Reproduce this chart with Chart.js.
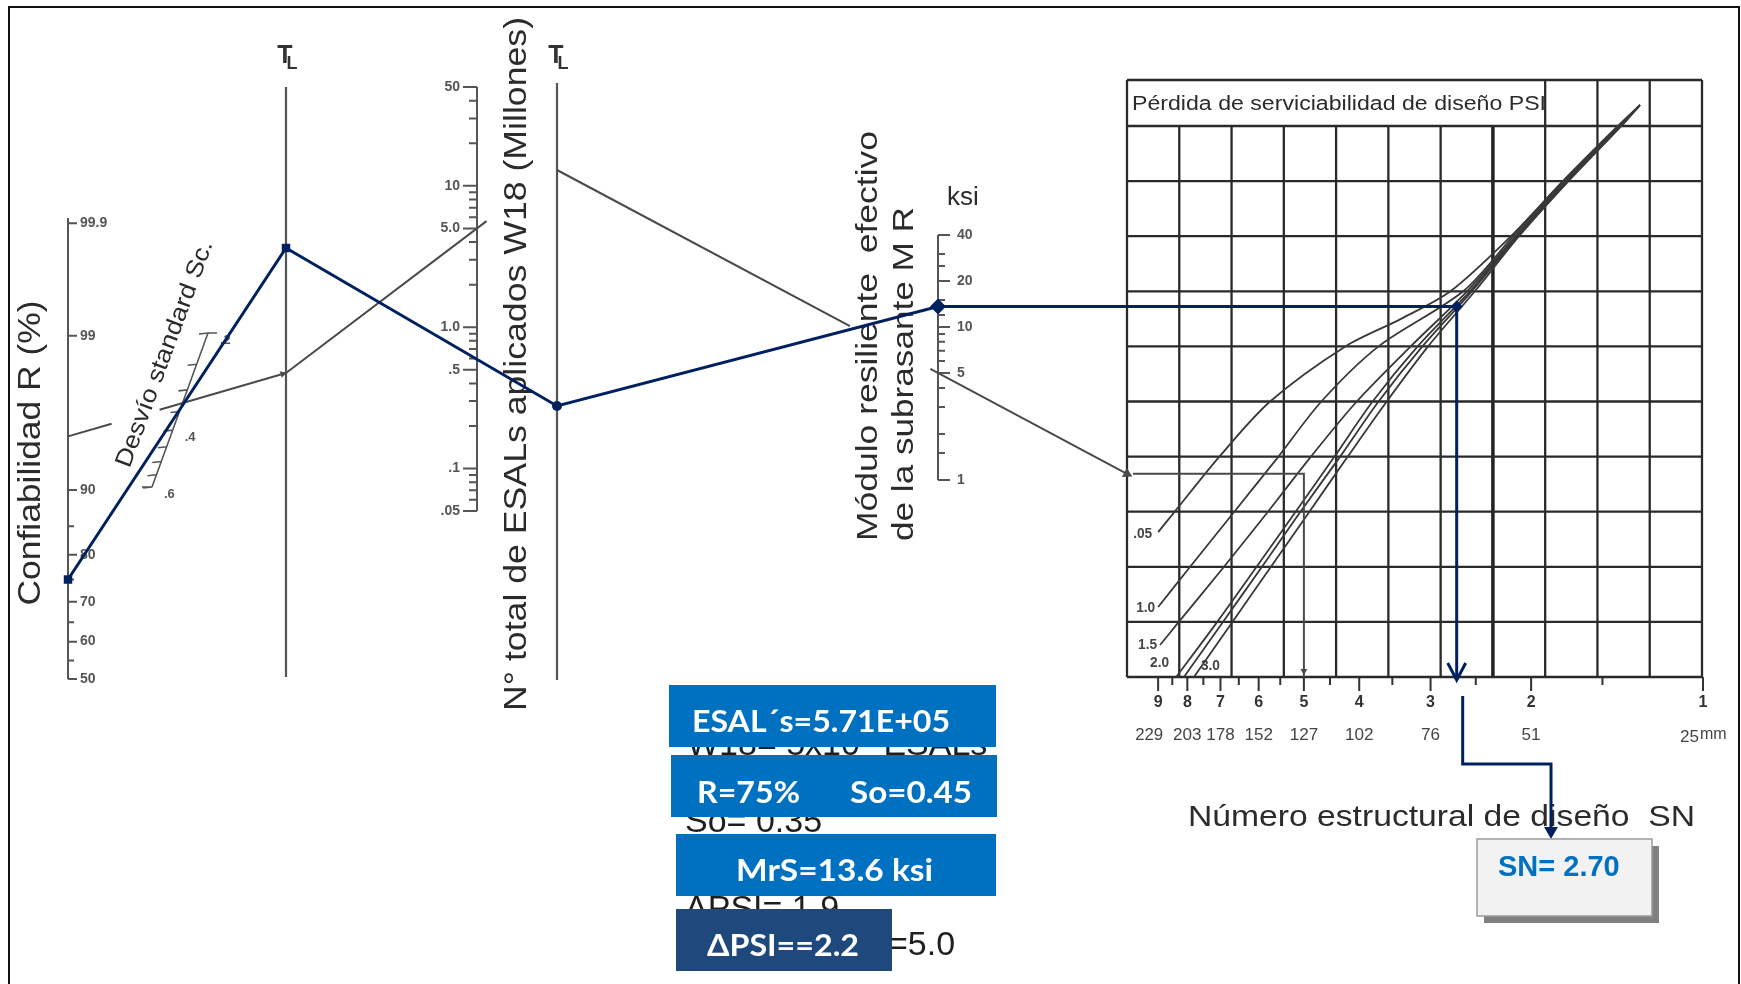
<!doctype html>
<html>
<head>
  <title>Nomograma AASHTO - pavimento flexible</title>
  <script src="https://cdn.jsdelivr.net/npm/chart.js@4.4.1/dist/chart.umd.min.js"></script>
  <style>
    html, body { margin: 0; padding: 0; background: #fff; }
    canvas { display: block; }
  </style>
</head>
<body>
  <canvas id="canvas" width="1741" height="984"></canvas>
  <script>
    // ---- values ----
    var rTickVals = [99.9, 99, 90, 80, 70, 60, 50];
    var rMinorVals = [85, 75, 65, 55];
    var soTickVals = [0.2, 0.25, 0.3, 0.35, 0.4, 0.45, 0.5, 0.55, 0.6];
    var soLabelVals = [0.2, 0.4, 0.6];
    var esalTickVals = [50, 10, 5, 1, 0.5, 0.1, 0.05];
    var esalTickLabels = ['50', '10', '5.0', '1.0', '.5', '.1', '.05'];
    var esalMinorVals = [40, 30, 20, 9, 8, 7, 6, 4, 3, 2, 0.9, 0.8, 0.7, 0.6, 0.4, 0.3, 0.2, 0.09, 0.08, 0.07, 0.06];
    var mrTickVals = [40, 20, 10, 5, 1];
    var mrMinorVals = [30, 25, 15, 12, 9, 8, 7, 6, 4, 3, 2, 1.5];
    var snTickVals = [9, 8, 7, 6, 5, 4, 3, 2, 1];
    var snMmLabels = ['229', '203', '178', '152', '127', '102', '76', '51', '25'];
    var snMinorVals = [8.5, 7.5, 6.5, 5.5, 4.5, 3.5, 2.5, 1.5];

    // delta PSI curves: grid row (0 = bottom line) and the SN where the curve crosses it
    var psiNames = ['.05', '1.0', '1.5', '2.0', '', '3.0'];
    var psi05Rows = [2.63, 3, 4, 5, 6, 6.5, 7, 8, 9, 10, 10.38];
    var psi05Sn = [9.0, 8.42, 7.03, 5.73, 4.23, 3.38, 2.77, 2.17, 1.76, 1.41, 1.29];
    var psi10Rows = [1.27, 2, 3, 4, 5, 6, 7, 8, 9, 10, 10.38];
    var psi10Sn = [9.0, 7.91, 6.62, 5.54, 4.66, 3.70, 2.63, 2.15, 1.75, 1.40, 1.29];
    var psi15Rows = [0.58, 1, 2, 3, 4, 5, 6, 7, 8, 9, 10, 10.38];
    var psi15Sn = [8.93, 8.28, 6.90, 5.78, 4.86, 4.04, 3.25, 2.59, 2.13, 1.74, 1.40, 1.29];
    var psi20Rows = [0, 1, 2, 3, 4, 5, 6, 7, 8, 9, 10, 10.38];
    var psi20Sn = [8.37, 7.09, 6.05, 5.17, 4.42, 3.79, 3.16, 2.56, 2.12, 1.73, 1.40, 1.29];
    var psi25Rows = [0, 1, 2, 3, 4, 5, 6, 7, 8, 9, 10, 10.38];
    var psi25Sn = [8.11, 6.93, 5.92, 5.07, 4.32, 3.70, 3.10, 2.54, 2.11, 1.73, 1.39, 1.29];
    var psi30Rows = [0, 1, 2, 3, 4, 5, 6, 7, 8, 9, 10, 10.38];
    var psi30Sn = [7.79, 6.67, 5.71, 4.89, 4.19, 3.58, 3.03, 2.51, 2.10, 1.72, 1.39, 1.29];

    // design solution (blue)
    var designR = 75;
    var designTl1 = 248;   // pivot read on first TL line
    var designTl2 = 406;   // pivot read on second TL line
    var designMr = 13.6;
    var designSn = 2.70;

    // printed example of the original chart (grey)
    var exampleR = 95;
    var exampleTl1 = 373;
    var exampleW18 = 5.0;
    var exampleTl2 = 170;
    var exampleMr = 5;
    var exampleSn = 5.0;

    // ---- geometry of the nomograph ----
    var rAxis = {x: 68, base: 679, perZ: 147.5, top: 218};
    var soAxis = {x0: 208, y0: 333, x1: 152, y1: 487};
    var tl1 = {x: 286, top: 87, bottom: 677};
    var esalAxis = {x: 477, base: 511, perDecade: 141.3};
    var tl2 = {x: 557, top: 83, bottom: 680};
    var mrAxis = {x: 938, base: 480, perDecade: 153};
    var snGrid = {left: 1127, right: 1702, top: 80, head: 126, bottom: 677, cols: 11, rows: 10};
    var snAxis = {one: 1703, perDecade: 571};
    var snBox = {x: 1477, y: 839, w: 175, h: 77};

    function normCdf(z) {
      var t = 1 / (1 + 0.2316419 * Math.abs(z));
      var d = 0.3989423 * Math.exp(-z * z / 2);
      var p = d * t * (0.3193815 + t * (-0.3565638 + t * (1.781478 + t * (-1.821256 + t * 1.330274))));
      return z > 0 ? 1 - p : p;
    }
    function zOf(r) {
      var lo = -6, hi = 6;
      for (var i = 0; i < 60; i++) {
        var m = (lo + hi) / 2;
        if (normCdf(m) < r / 100) lo = m; else hi = m;
      }
      return (lo + hi) / 2;
    }
    function rY(r) { return rAxis.base - rAxis.perZ * zOf(r); }
    function soPt(v) {
      var t = Math.log10(v / 0.2) / Math.log10(3);
      return {x: soAxis.x0 + t * (soAxis.x1 - soAxis.x0), y: soAxis.y0 + t * (soAxis.y1 - soAxis.y0)};
    }
    function esalY(v) { return esalAxis.base - esalAxis.perDecade * Math.log10(v / 0.05); }
    function mrY(v) { return mrAxis.base - mrAxis.perDecade * Math.log10(v); }
    function snX(v) { return snAxis.one - snAxis.perDecade * Math.log10(v); }
    function rowY(r) { return snGrid.bottom - r * (snGrid.bottom - snGrid.head) / snGrid.rows; }
    function colX(i) { return snGrid.left + i * (snGrid.right - snGrid.left) / snGrid.cols; }

    function P(x, y) { return {x: x, y: y}; }
    var GAP = {x: null, y: null};
    function segs(list) {
      var out = [];
      list.forEach(function (s, i) {
        if (i) out.push(GAP);
        s.forEach(function (p) { out.push(p); });
      });
      return out;
    }
    function along(a, b, t) { return P(a.x + (b.x - a.x) * t, a.y + (b.y - a.y) * t); }
    function lineSet(data, color, width, extra) {
      var ds = {data: data, showLine: true, borderColor: color, borderWidth: width,
        pointRadius: 0, fill: false, spanGaps: false};
      for (var k in extra || {}) ds[k] = extra[k];
      return ds;
    }

    var BLUE = '#002060';
    var GREY = '#4a4a4a';
    var INK = '#2b2b2b';

    // ---- design path ----
    var pR = P(rAxis.x, rY(designR));
    var pT1 = P(tl1.x, designTl1);
    var pT2 = P(tl2.x, designTl2);
    var pMr = P(mrAxis.x, mrY(designMr));
    var pSn = P(snX(designSn), mrY(designMr));
    var arrowTip = P(pSn.x, snGrid.bottom + 3);
    var lowX = pSn.x + 6;
    var boxArrowX = snBox.x + 74;
    var lowPath = [P(lowX, 696), P(lowX, 764), P(boxArrowX, 764), P(boxArrowX, snBox.y - 9)];

    // ---- example path ----
    var eR = P(rAxis.x, rY(exampleR));
    var eT1 = P(tl1.x, exampleTl1);
    var eW = P(esalAxis.x, esalY(exampleW18));
    var eT2 = P(tl2.x, exampleTl2);
    var eMr = P(mrAxis.x, mrY(exampleMr));
    var eEdgeY = eT2.y + (eMr.y - eT2.y) * (snGrid.left - eT2.x) / (eMr.x - eT2.x);
    var eEdge = P(snGrid.left, eEdgeY);
    var eSnX = snX(exampleSn);
    var exampleLines = segs([
      [eR, along(eR, eT1, 0.2)],
      [along(eR, eT1, 0.42), eT1],
      [eT1, along(eT1, eW, 1.05)],
      [eT2, along(eT2, eEdge, 0.514)],
      [along(eT2, eEdge, 0.655), eEdge],
      [P(snGrid.left + 6, eEdgeY), P(eSnX, eEdgeY), P(eSnX, snGrid.bottom)]
    ]);

    // ---- axes and ticks ----
    var rLines = [[P(rAxis.x, rAxis.top), P(rAxis.x, rY(50))]];
    rTickVals.forEach(function (v) { rLines.push([P(rAxis.x, rY(v)), P(rAxis.x + 9, rY(v))]); });
    rMinorVals.forEach(function (v) { rLines.push([P(rAxis.x, rY(v)), P(rAxis.x + 6, rY(v))]); });

    var so0 = soPt(0.2), so1 = soPt(0.6);
    var soLines = [[so0, so1], [so0, P(so0.x + 9, so0.y)], [so1, P(so1.x - 10, so1.y)]];
    soTickVals.forEach(function (v) { var p = soPt(v); soLines.push([p, P(p.x - 9, p.y + 1)]); });

    var esalLines = [[P(esalAxis.x, esalY(50)), P(esalAxis.x, esalY(0.05))]];
    esalTickVals.forEach(function (v) { esalLines.push([P(esalAxis.x, esalY(v)), P(esalAxis.x - 14, esalY(v))]); });
    esalMinorVals.forEach(function (v) { esalLines.push([P(esalAxis.x, esalY(v)), P(esalAxis.x - 8, esalY(v))]); });

    var mrLines = [[P(mrAxis.x, mrY(40)), P(mrAxis.x, mrY(1))]];
    mrTickVals.forEach(function (v) { mrLines.push([P(mrAxis.x, mrY(v)), P(mrAxis.x + 12, mrY(v))]); });
    mrMinorVals.forEach(function (v) { mrLines.push([P(mrAxis.x, mrY(v)), P(mrAxis.x + 7, mrY(v))]); });

    var tlLines = [[P(tl1.x, tl1.top), P(tl1.x, tl1.bottom)], [P(tl2.x, tl2.top), P(tl2.x, tl2.bottom)]];

    // ---- SN chart grid ----
    var gridLines = [[P(snGrid.left, snGrid.top), P(snGrid.right, snGrid.top)]];
    for (var r = 0; r <= snGrid.rows; r++) gridLines.push([P(snGrid.left, rowY(r)), P(snGrid.right, rowY(r))]);
    for (var c = 0; c <= snGrid.cols; c++) {
      if (c === 7) continue;
      var colTop = (c === 0 || c >= 8) ? snGrid.top : snGrid.head;
      gridLines.push([P(colX(c), colTop), P(colX(c), snGrid.bottom)]);
    }
    var thickLine = [P(colX(7), snGrid.head), P(colX(7), snGrid.bottom)];
    var snTickLines = [];
    snTickVals.forEach(function (v) { snTickLines.push([P(snX(v), snGrid.bottom), P(snX(v), snGrid.bottom + 14)]); });
    snMinorVals.forEach(function (v) { snTickLines.push([P(snX(v), snGrid.bottom), P(snX(v), snGrid.bottom + 8)]); });

    function curve(rows, sns) { return rows.map(function (rw, i) { return P(snX(sns[i]), rowY(rw)); }); }
    var psiCurves = [
      curve(psi05Rows, psi05Sn), curve(psi10Rows, psi10Sn), curve(psi15Rows, psi15Sn),
      curve(psi20Rows, psi20Sn), curve(psi25Rows, psi25Sn), curve(psi30Rows, psi30Sn)
    ];
    var psiLabelShift = [[-6, 2, 'right'], [-3, 1, 'right'], [-3, 0, 'right'], [-7, -14, 'right'], [0, 0, 'left'], [7, -11, 'left']];

    var frame = [P(9, 986), P(9, 7), P(1739, 7), P(1739, 986)];

    var datasets = [
      {data: [pR, pT1, pT2, pMr, pSn], showLine: false, backgroundColor: BLUE, borderColor: BLUE,
        pointStyle: ['rect', 'rect', 'circle', 'rectRot', 'rectRot'], pointRadius: [6, 6, 5, 8, 6], borderWidth: 0},
      {data: [P(boxArrowX, snBox.y - 8)], showLine: false, backgroundColor: BLUE, borderColor: BLUE,
        pointStyle: 'triangle', rotation: 180, pointRadius: 8, borderWidth: 0},
      lineSet([pR, pT1, pT2, pMr, pSn, arrowTip], BLUE, 3),
      lineSet([P(arrowTip.x - 9, arrowTip.y - 17), arrowTip, P(arrowTip.x + 9, arrowTip.y - 17)], BLUE, 3),
      lineSet(lowPath, BLUE, 3, {borderJoinStyle: 'miter'}),
      {data: [eEdge, along(eR, eT1, 0.985), P(eSnX, snGrid.bottom - 6)], showLine: false,
        backgroundColor: GREY, borderColor: GREY, pointStyle: 'triangle',
        rotation: [90 + Math.atan2(eEdge.y - eT2.y, eEdge.x - eT2.x) * 180 / Math.PI,
          90 + Math.atan2(eT1.y - eR.y, eT1.x - eR.x) * 180 / Math.PI, 180],
        pointRadius: [6, 4, 4], borderWidth: 0},
      lineSet(exampleLines, GREY, 2)
    ];
    psiCurves.forEach(function (cv) { datasets.push(lineSet(cv, '#383838', 1.8, {tension: 0.3})); });
    datasets.push(lineSet(segs(gridLines), '#2a2a2a', 2.3));
    datasets.push(lineSet(thickLine, '#222', 3.5));
    datasets.push(lineSet(segs(snTickLines), '#333', 2));
    datasets.push(lineSet(segs(rLines), '#555', 2));
    datasets.push(lineSet(segs(soLines), '#555', 1.6));
    datasets.push(lineSet(segs(esalLines), '#555', 2));
    datasets.push(lineSet(segs(mrLines), '#555', 2));
    datasets.push(lineSet(segs(tlLines), '#555', 2.2));
    datasets.push(lineSet(frame, '#111', 2));

    function drawText(ctx, s, x, y, o) {
      ctx.save();
      ctx.translate(x, y);
      if (o.rot) ctx.rotate(o.rot * Math.PI / 180);
      ctx.font = o.font;
      ctx.fillStyle = o.color || INK;
      ctx.textAlign = o.align || 'left';
      ctx.textBaseline = o.base || 'middle';
      if (o.w) ctx.scale(o.w / ctx.measureText(s).width, 1);
      ctx.fillText(s, 0, 0);
      ctx.restore();
    }
    var SANS = '"Liberation Sans", Arial, sans-serif';
    var BOXF = 'Lato, "Open Sans", sans-serif';

    var labelsPlugin = {
      id: 'nomoLabels',
      beforeDatasetsDraw: function (chart) {
        var ctx = chart.ctx;
        var X = function (v) { return chart.scales.x.getPixelForValue(v); };
        var Y = function (v) { return chart.scales.y.getPixelForValue(v); };
        var tick = 'bold 14px ' + SANS;

        rTickVals.forEach(function (v) {
          drawText(ctx, String(v), X(rAxis.x + 12), Y(rY(v)), {font: tick, color: '#555'});
        });
        soLabelVals.forEach(function (v) {
          var p = soPt(v);
          drawText(ctx, String(v).replace('0.', '.'), X(p.x + 12), Y(p.y + 7), {font: 'bold 13px ' + SANS, color: '#555'});
        });
        esalTickVals.forEach(function (v, i) {
          drawText(ctx, esalTickLabels[i], X(esalAxis.x - 17), Y(esalY(v)), {font: tick, color: '#555', align: 'right'});
        });
        mrTickVals.forEach(function (v) {
          drawText(ctx, String(v), X(mrAxis.x + 19), Y(mrY(v)), {font: tick, color: '#555'});
        });
        snTickVals.forEach(function (v, i) {
          drawText(ctx, String(v), X(snX(v)), Y(703), {font: 'bold 16px ' + SANS, color: '#333', align: 'center'});
          if (i === 0) {
            drawText(ctx, snMmLabels[i], X(snX(v) - 9), Y(735), {font: '17px ' + SANS, color: '#444', align: 'center', w: 28});
          } else if (i < snTickVals.length - 1) {
            drawText(ctx, snMmLabels[i], X(snX(v)), Y(735), {font: '17px ' + SANS, color: '#444', align: 'center', w: snMmLabels[i].length * 9.5});
          } else {
            drawText(ctx, snMmLabels[i], X(snX(v) - 4), Y(737), {font: '17px ' + SANS, color: '#444', align: 'right', w: 19});
            drawText(ctx, 'mm', X(snX(v) - 3), Y(735), {font: '16px ' + SANS, color: '#444'});
          }
        });
        psiCurves.forEach(function (cv, i) {
          if (!psiNames[i]) return;
          var s = psiLabelShift[i];
          drawText(ctx, psiNames[i], X(cv[0].x + s[0]), Y(cv[0].y + s[1]), {font: 'bold 14px ' + SANS, color: '#444', align: s[2], w: 19});
        });

        // TL marks
        [tl1.x, tl2.x].forEach(function (x) {
          drawText(ctx, 'T', X(x - 1), Y(56), {font: 'bold 25px ' + SANS, color: '#333', align: 'center'});
          drawText(ctx, 'L', X(x + 6), Y(64), {font: 'bold 18px ' + SANS, color: '#333', align: 'center'});
        });

        // axis titles
        drawText(ctx, 'Confiabilidad R (%)', X(31), Y(453), {font: '31px ' + SANS, rot: -90, align: 'center', w: 305});
        drawText(ctx, 'Desvío standard Sc.', X(165), Y(354), {font: '24px ' + SANS, rot: -69.7, align: 'center', w: 240});
        drawText(ctx, 'N° total de ESALs aplicados W18 (Millones)', X(517), Y(364), {font: '31px ' + SANS, rot: -90, align: 'center', w: 694});
        drawText(ctx, 'Módulo resiliente  efectivo', X(869), Y(541), {font: '30px ' + SANS, rot: -90, w: 410});
        drawText(ctx, 'de la subrasante M R', X(905), Y(541), {font: '30px ' + SANS, rot: -90, w: 334});
        drawText(ctx, 'ksi', X(963), Y(198), {font: '26px ' + SANS, align: 'center'});
        drawText(ctx, 'Pérdida de serviciabilidad de diseño PSI', X(1132), Y(104), {font: '20px ' + SANS, w: 414});
        drawText(ctx, 'Número estructural de diseño  SN', X(1188), Y(818), {font: '30px ' + SANS, w: 507});
      },
      afterDatasetsDraw: function (chart) {
        var ctx = chart.ctx;
        var X = function (v) { return chart.scales.x.getPixelForValue(v); };
        var Y = function (v) { return chart.scales.y.getPixelForValue(v); };
        function rect(x0, y0, x1, y1, fill) {
          ctx.fillStyle = fill;
          ctx.fillRect(X(x0), Y(y0), X(x1) - X(x0), Y(y1) - Y(y0));
        }
        // older data underneath the boxes
        var old = {font: '34px ' + SANS, color: '#1e1e1e', base: 'alphabetic'};
        drawText(ctx, 'W18= 5x10⁶ ESALs', X(687), Y(755), old);
        drawText(ctx, 'So= 0.35', X(685), Y(832), old);
        drawText(ctx, 'ΔPSI= 1.9', X(685), Y(919), old);
        drawText(ctx, '=5.0', X(888), Y(955), old);

        rect(669, 685, 996, 747, '#0070C0');
        rect(671, 755, 997, 817, '#0070C0');
        rect(676, 834, 996, 896, '#0070C0');
        rect(676, 909, 892, 971, '#1F497D');
        var bf = {font: 'bold 31px ' + BOXF, color: '#fff', base: 'alphabetic'};
        drawText(ctx, 'ESAL´s=5.71E+05', X(692), Y(732), Object.assign({w: 258}, bf));
        drawText(ctx, 'R=' + designR + '%', X(697), Y(803), Object.assign({w: 103}, bf));
        drawText(ctx, 'So=0.45', X(850), Y(803), Object.assign({w: 122}, bf));
        drawText(ctx, 'MrS=' + designMr + ' ksi', X(736), Y(881), Object.assign({w: 197}, bf));
        drawText(ctx, 'ΔPSI==2.2', X(707), Y(956), Object.assign({w: 152}, bf));

        // SN result box
        rect(snBox.x + 7, snBox.y + 7, snBox.x + snBox.w + 7, snBox.y + snBox.h + 7, '#808080');
        rect(snBox.x, snBox.y, snBox.x + snBox.w, snBox.y + snBox.h, '#F2F2F2');
        ctx.strokeStyle = '#9a9a9a';
        ctx.lineWidth = 1.5;
        ctx.strokeRect(X(snBox.x), Y(snBox.y), X(snBox.x + snBox.w) - X(snBox.x), Y(snBox.y + snBox.h) - Y(snBox.y));
        drawText(ctx, 'SN= ' + designSn.toFixed(2), X(snBox.x + 21), Y(snBox.y + 29), {font: 'bold 29px ' + SANS, color: '#0070C0'});
      }
    };

    var chart = new Chart('canvas', {
      type: 'scatter',
      data: {datasets: datasets},
      options: {
        responsive: false,
        animation: false,
        events: [],
        layout: {autoPadding: false, padding: 0},
        plugins: {legend: {display: false}, tooltip: {enabled: false}},
        scales: {
          x: {type: 'linear', min: 0, max: 1741, display: false},
          y: {type: 'linear', min: 0, max: 984, reverse: true, display: false}
        }
      },
      plugins: [labelsPlugin]
    });
  </script>
</body>
</html>
